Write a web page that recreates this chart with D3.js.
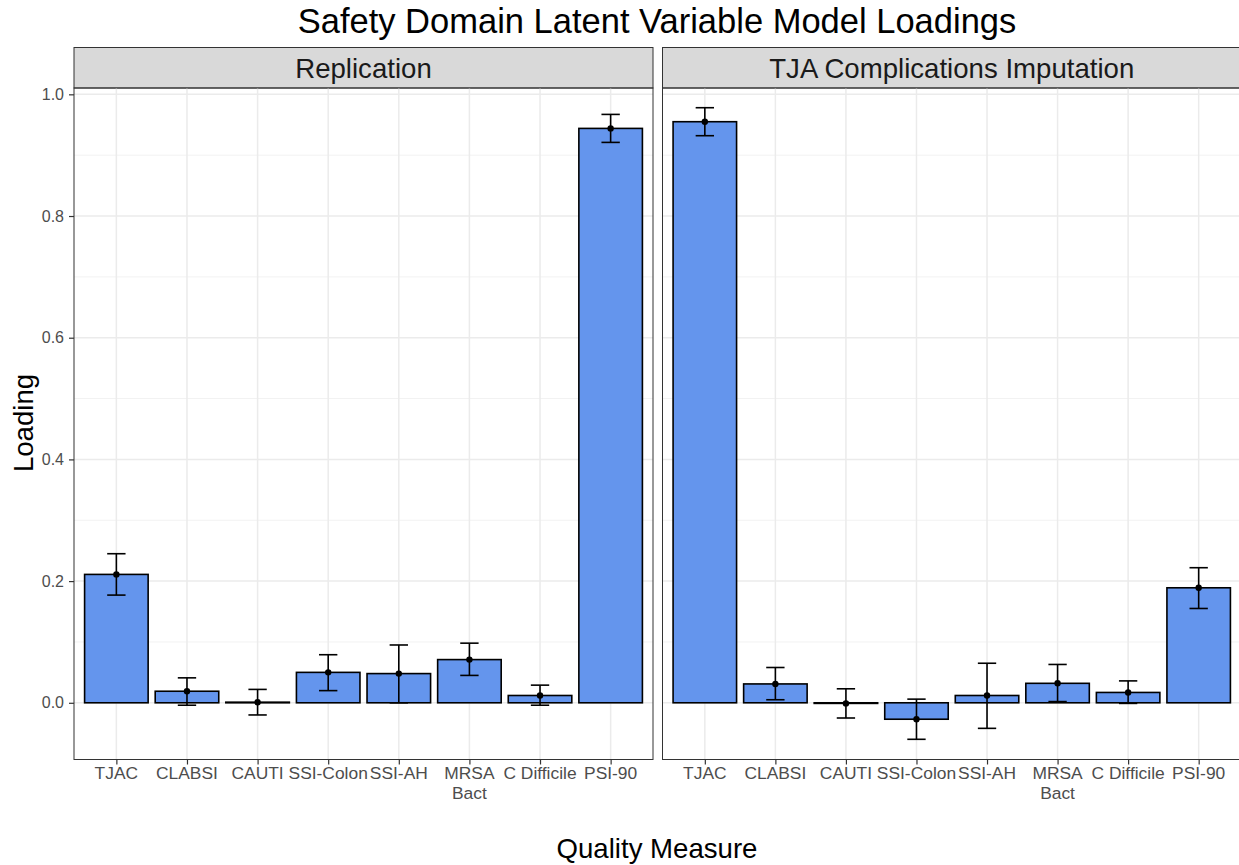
<!DOCTYPE html>
<html>
<head>
<meta charset="utf-8">
<script src="https://cdn.jsdelivr.net/npm/d3@7"></script>
<style>
  body { margin: 0; background: #fff; }
  text { font-family: "Liberation Sans", Arial, sans-serif; }
</style>
</head>
<body>
<svg id="chart" width="1239" height="865"></svg>
<script>
var measures = ["TJAC", "CLABSI", "CAUTI", "SSI-Colon", "SSI-AH", "MRSA\nBact", "C Difficile", "PSI-90"];
var panelNames = ["Replication", "TJA Complications Imputation"];

var replicationLoading = [0.211, 0.019, 0.001, 0.050, 0.048, 0.071, 0.012, 0.944];
var replicationLower   = [0.177, -0.004, -0.020, 0.020, 0.000, 0.045, -0.004, 0.921];
var replicationUpper   = [0.245, 0.041, 0.022, 0.079, 0.095, 0.098, 0.029, 0.967];

var imputationLoading = [0.955, 0.031, -0.001, -0.027, 0.012, 0.032, 0.017, 0.189];
var imputationLower   = [0.932, 0.005, -0.025, -0.060, -0.042, 0.002, -0.001, 0.155];
var imputationUpper   = [0.978, 0.058, 0.023, 0.006, 0.065, 0.063, 0.036, 0.222];

var yTicks = [0, 0.2, 0.4, 0.6, 0.8, 1.0];
var yMinor = [0.1, 0.3, 0.5, 0.7, 0.9];

var svg = d3.select("#chart"),
    plotTop = 88,
    plotBottom = 759.5,
    stripTop = 47.5,
    panelX = [[74, 653], [662.5, 1241]];

var panels = [
  {name: panelNames[0], loading: replicationLoading, lower: replicationLower, upper: replicationUpper},
  {name: panelNames[1], loading: imputationLoading, lower: imputationLower, upper: imputationUpper}
];

var y = d3.scaleLinear()
    .domain([-0.0932, 1.0104])
    .range([plotBottom, plotTop]);

// title
svg.append("text")
    .attr("x", 657)
    .attr("y", 33)
    .attr("text-anchor", "middle")
    .attr("font-size", 34.5)
    .attr("fill", "#000")
    .text("Safety Domain Latent Variable Model Loadings");

panels.forEach(function(p, pi) {
  var x0 = panelX[pi][0], x1 = panelX[pi][1];
  var x = d3.scalePoint()
      .domain(measures)
      .range([x0, x1])
      .padding(0.6);
  var step = x.step();
  var rows = measures.map(function(m, i) {
    return {m: m, v: p.loading[i], lo: p.lower[i], hi: p.upper[i]};
  });

  var g = svg.append("g");

  // strip
  g.append("rect")
      .attr("x", x0)
      .attr("y", stripTop)
      .attr("width", x1 - x0)
      .attr("height", plotTop - stripTop)
      .attr("fill", "#D9D9D9")
      .attr("stroke", "#333")
      .attr("stroke-width", 1);
  g.append("text")
      .attr("x", (x0 + x1) / 2)
      .attr("y", 77.5)
      .attr("text-anchor", "middle")
      .attr("font-size", 27.6)
      .attr("fill", "#1A1A1A")
      .text(p.name);

  // grid
  g.selectAll(".minor").data(yMinor).enter().append("line")
      .attr("x1", x0).attr("x2", x1)
      .attr("y1", d => y(d)).attr("y2", d => y(d))
      .attr("stroke", "#F2F2F2").attr("stroke-width", 1);
  g.selectAll(".major").data(yTicks).enter().append("line")
      .attr("x1", x0).attr("x2", x1)
      .attr("y1", d => y(d)).attr("y2", d => y(d))
      .attr("stroke", "#EBEBEB").attr("stroke-width", 1.5);
  g.selectAll(".vgrid").data(measures).enter().append("line")
      .attr("x1", d => x(d)).attr("x2", d => x(d))
      .attr("y1", plotTop).attr("y2", plotBottom)
      .attr("stroke", "#EBEBEB").attr("stroke-width", 1.5);

  // bars
  g.selectAll(".bar").data(rows).enter().append("rect")
      .attr("x", d => x(d.m) - step * 0.45)
      .attr("width", step * 0.9)
      .attr("y", d => y(Math.max(0, d.v)))
      .attr("height", d => Math.abs(y(d.v) - y(0)))
      .attr("fill", "#6495ED")
      .attr("stroke", "#000")
      .attr("stroke-width", 1.6);

  // error bars
  var cap = step * 0.13;
  var eb = g.selectAll(".err").data(rows).enter().append("g");
  eb.append("line")
      .attr("x1", d => x(d.m)).attr("x2", d => x(d.m))
      .attr("y1", d => y(d.lo)).attr("y2", d => y(d.hi))
      .attr("stroke", "#000").attr("stroke-width", 1.6);
  eb.append("line")
      .attr("x1", d => x(d.m) - cap).attr("x2", d => x(d.m) + cap)
      .attr("y1", d => y(d.hi)).attr("y2", d => y(d.hi))
      .attr("stroke", "#000").attr("stroke-width", 1.6);
  eb.append("line")
      .attr("x1", d => x(d.m) - cap).attr("x2", d => x(d.m) + cap)
      .attr("y1", d => y(d.lo)).attr("y2", d => y(d.lo))
      .attr("stroke", "#000").attr("stroke-width", 1.6);
  eb.append("circle")
      .attr("cx", d => x(d.m))
      .attr("cy", d => y(d.v))
      .attr("r", 3.2)
      .attr("fill", "#000");

  // panel border
  g.append("rect")
      .attr("x", x0).attr("y", plotTop)
      .attr("width", x1 - x0).attr("height", plotBottom - plotTop)
      .attr("fill", "none").attr("stroke", "#333").attr("stroke-width", 1);

  // bottom axis
  var xa = g.append("g")
      .attr("transform", "translate(0," + plotBottom + ")")
      .call(d3.axisBottom(x).tickSize(5).tickFormat(""));
  xa.select(".domain").remove();
  xa.selectAll(".tick line").attr("stroke", "#333").attr("stroke-width", 1.2);

  g.selectAll(".xlab").data(measures).enter().append("text")
      .attr("x", d => x(d))
      .attr("y", 778.5)
      .attr("text-anchor", "middle")
      .attr("font-size", 17.4)
      .attr("fill", "#4D4D4D")
      .each(function(d) {
        var lines = d.split("\n");
        var t = d3.select(this);
        lines.forEach(function(l, i) {
          t.append("tspan").attr("x", x(d)).attr("dy", i ? 20.5 : 0).text(l);
        });
      });

  // left axis only on first panel
  if (pi === 0) {
    var ya = g.append("g")
        .attr("transform", "translate(" + x0 + ",0)")
        .call(d3.axisLeft(y).tickValues(yTicks).tickSize(5).tickPadding(5).tickFormat(d3.format(".1f")));
    ya.select(".domain").remove();
    ya.selectAll(".tick line").attr("stroke", "#333").attr("stroke-width", 1.2);
    ya.selectAll(".tick text")
        .attr("font-size", 16)
        .attr("fill", "#4D4D4D")
        .style("font-family", "'Liberation Sans', Arial, sans-serif");
  }
});

// axis titles
svg.append("text")
    .attr("x", 657)
    .attr("y", 858)
    .attr("text-anchor", "middle")
    .attr("font-size", 27.6)
    .attr("fill", "#000")
    .text("Quality Measure");

svg.append("text")
    .attr("transform", "translate(33,423) rotate(-90)")
    .attr("text-anchor", "middle")
    .attr("font-size", 27.6)
    .attr("fill", "#000")
    .text("Loading");
</script>
</body>
</html>
